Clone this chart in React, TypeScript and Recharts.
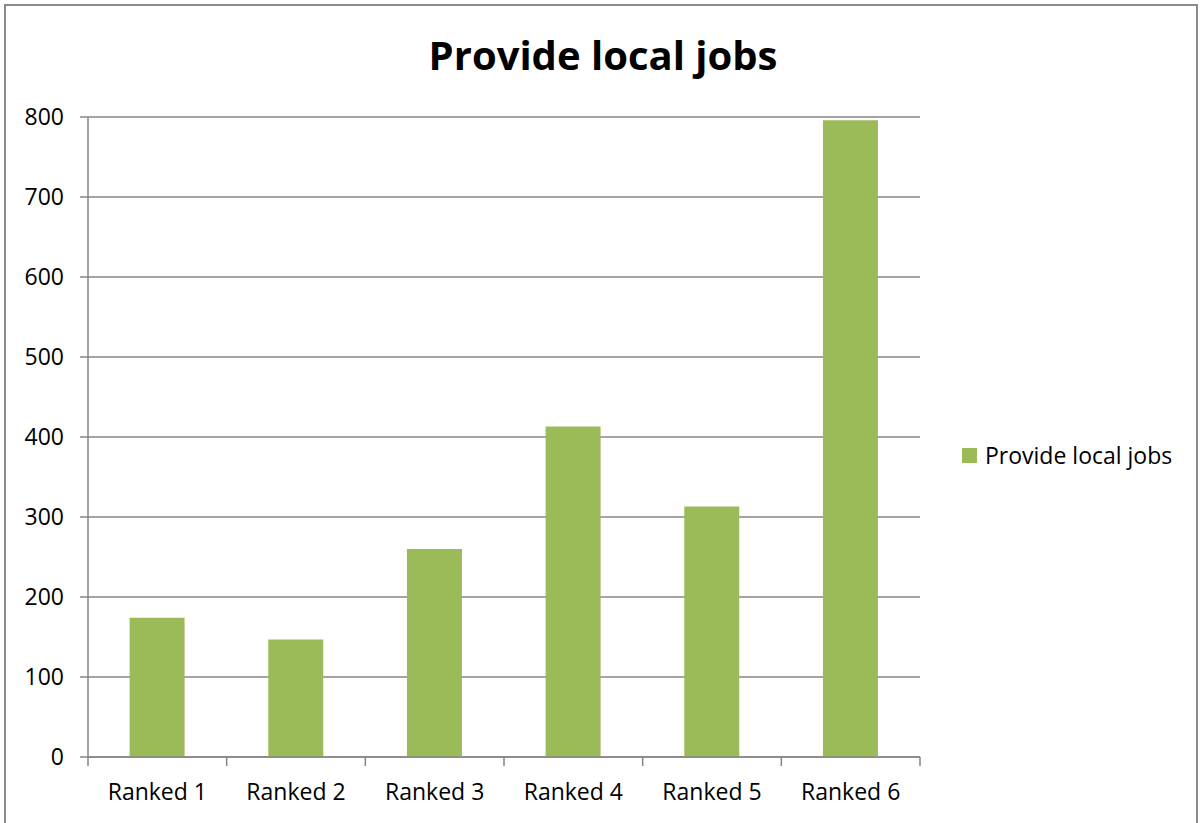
import { BarChart, Bar, XAxis, YAxis, CartesianGrid, Legend } from "recharts";

const categories = ["Ranked 1", "Ranked 2", "Ranked 3", "Ranked 4", "Ranked 5", "Ranked 6"];
const jobs = [174, 147, 260, 413, 313, 796];
const yTicks = [0, 100, 200, 300, 400, 500, 600, 700, 800];

const data = categories.map((name, i) => ({ name, jobs: jobs[i] }));

const AXIS = "#868686";
const FONT = "'Open Sans', sans-serif";
const TICK_LEN = 9;
const TICK_GAP = 17;

// category label plus Excel-style tick marks between categories
function CategoryTick(props: any) {
  const { x, y, payload, index, visibleTicksCount } = props;
  const half = payload.offset || 0;
  const top = y - TICK_LEN - TICK_GAP;
  const last = index === visibleTicksCount - 1;
  return (
    <g>
      <line x1={x - half} x2={x - half} y1={top} y2={top + TICK_LEN} stroke={AXIS} strokeWidth={1.5} />
      {last && <line x1={x + half} x2={x + half} y1={top} y2={top + TICK_LEN} stroke={AXIS} strokeWidth={1.5} />}
      <text x={x} y={y} dy="0.72em" textAnchor="middle" fill="#000" fontSize={23} fontFamily={FONT}>
        {payload.value}
      </text>
    </g>
  );
}

function LegendBox() {
  return (
    <div style={{ display: "flex", alignItems: "center", fontFamily: FONT, fontSize: 23, color: "#000" }}>
      <span style={{ width: 15, height: 15, background: "#9BBB59", marginRight: 8, display: "inline-block" }} />
      Provide local jobs
    </div>
  );
}

export default function App() {
  return (
    <div style={{ position: "absolute", left: 0, top: 0, width: 1203, height: 823, background: "#fff", overflow: "hidden" }}>
      <div
        style={{
          position: "absolute",
          left: 4,
          top: 4,
          width: 1194,
          height: 840,
          border: "2px solid #8a8a8a",
          boxSizing: "border-box",
        }}
      />
      <div
        style={{
          position: "absolute",
          left: 0,
          width: 1206,
          top: 27,
          textAlign: "center",
          fontFamily: FONT,
          fontWeight: 700,
          fontSize: 40,
        }}
      >
        Provide local jobs
      </div>
      <BarChart
        width={1203}
        height={823}
        data={data}
        margin={{ top: 117, right: 283, bottom: 26, left: 0 }}
        barCategoryGap="30%"
      >
        <CartesianGrid vertical={false} stroke={AXIS} strokeWidth={1.5} />
        <XAxis
          dataKey="name"
          height={40}
          stroke={AXIS}
          strokeWidth={1.5}
          tickLine={false}
          tickSize={TICK_LEN}
          tickMargin={TICK_GAP}
          interval={0}
          tick={<CategoryTick />}
        />
        <YAxis
          width={88}
          domain={[0, 800]}
          ticks={yTicks}
          tickSize={8}
          tickMargin={16}
          stroke={AXIS}
          strokeWidth={1.5}
          tick={{ fill: "#000", fontSize: 23, fontFamily: FONT }}
        />
        <Legend
          layout="horizontal"
          align="center"
          verticalAlign="middle"
          wrapperStyle={{ left: 962, top: 439, width: 240 }}
          content={() => <LegendBox />}
        />
        <Bar dataKey="jobs" name="Provide local jobs" fill="#9BBB59" isAnimationActive={false} />
      </BarChart>
    </div>
  );
}
